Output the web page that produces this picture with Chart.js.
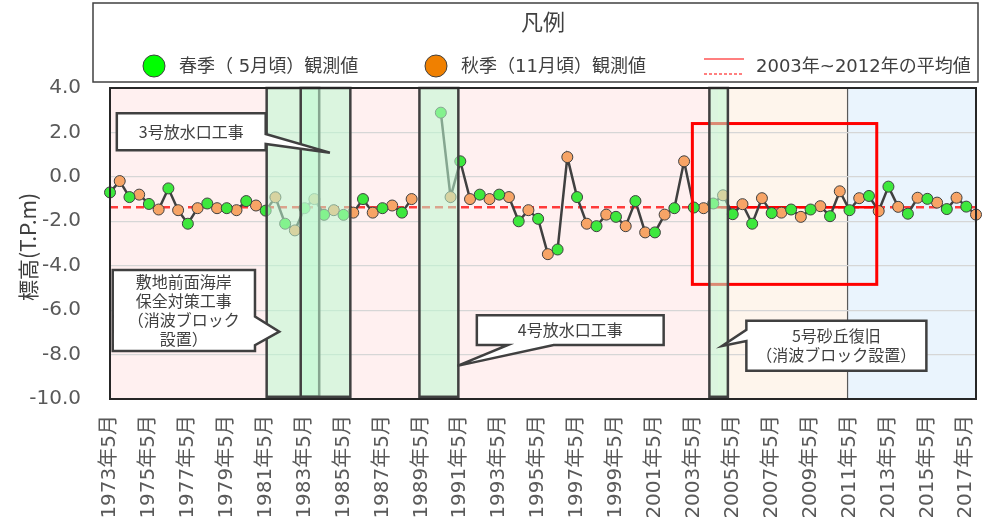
<!DOCTYPE html>
<html lang="ja">
<head>
<meta charset="utf-8">
<title>標高の推移</title>
<script src="https://cdn.jsdelivr.net/npm/chart.js@4.4.1/dist/chart.umd.min.js"></script>
<style>
html, body { margin: 0; padding: 0; background: #fff; }
#wrap { position: relative; width: 1002px; height: 526px; }
</style>
</head>
<body>
<div id="wrap"><canvas id="myChart" width="1002" height="526"></canvas></div>
<script>
// 観測年（春季=5月, 秋季=11月）
const startYear = 1973;
const endYear = 2017;

// 春季（5月頃）観測値 1973〜2017
const springValues = [-0.70, -0.91, -1.22, -0.52, -2.11, -1.20, -1.41, -1.09, -1.52, -2.11,
  -1.41, -1.71, -1.71, -1.00, -1.41, -1.61, null, 2.89, 0.70, -0.80,
  -0.80, -2.00, -1.89, -3.27, -0.91, -2.22, -1.80, -1.09, -2.50, -1.41,
  -1.38, -1.20, -1.68, -2.11, -1.63, -1.47, -1.47, -1.77, -1.50, -0.86,
  -0.44, -1.66, -0.99, -1.45, -1.34];

// 秋季（11月頃）観測値 1973〜2017
const autumnValues = [-0.19, -0.80, -1.47, -1.50, -1.41, -1.41, -1.50, -1.29, -0.92, -2.41,
  -1.00, -1.50, -1.61, -1.61, -1.29, -1.00, null, -0.91, -1.00, -1.00,
  -0.91, -1.50, -3.48, 0.89, -2.11, -1.70, -2.22, -2.50, -1.70, 0.70,
  -1.41, -0.83, -1.23, -0.96, -1.61, -1.80, -1.32, -0.65, -0.96, -1.54,
  -1.35, -0.94, -1.16, -0.94, -1.70];

// 2003年~2012年の平均値
const avgValue = -1.37;
const avgFrom = '2003年5月';
const avgTo = '2012年11月';

// y軸目盛
const yTicks = [4, 2, 0, -2, -4, -6, -8, -10];

// labels / series
let labels = [];
let allValues = [];
let springSeries = [];
let autumnSeries = [];
for (let k = 0; k <= endYear - startYear; k++) {
  labels.push((startYear + k) + '年5月');
  labels.push((startYear + k) + '年11月');
  allValues.push(springValues[k], autumnValues[k]);
  springSeries.push(springValues[k], null);
  autumnSeries.push(null, autumnValues[k]);
}
const i0 = labels.indexOf(avgFrom);
const i1 = labels.indexOf(avgTo);
const avgAll = labels.map(() => avgValue);
const avgPeriod = labels.map((l, i) => (i >= i0 && i <= i1) ? avgValue : null);

const FONT = "'DejaVu Sans', 'Noto Sans CJK JP', sans-serif";
const JFONT = "'Noto Sans CJK JP', 'DejaVu Sans', sans-serif";
const GREEN = '#3de83d';
const ORANGE = '#f7a466';

// 背景の色分け（カテゴリ位置）
const bands = [
  [0, 62.5, '#fff0f0'],
  [62.5, 75.8, '#fef5ec'],
  [75.8, 89, '#eaf4fd']
];
// 工事期間の枠
const works = [[16.1, 21.5], [19.6, 24.7], [31.8, 35.8], [61.6, 63.5]];
// 吹き出し
const notes = [
  { lines: ['3号放水口工事'], box: [0.7, 2.86, 16.0, 1.2], side: 'right', base: [1.93, 1.48], tip: [22.6, 1.09] },
  { lines: ['敷地前面海岸', '保全対策工事', '（消波ブロック', '設置）'], box: [0.28, -4.19, 14.9, -7.84], side: 'right', base: [-6.29, -7.58], tip: [17.4, -6.97] },
  { lines: ['4号放水口工事'], box: [37.7, -6.23, 56.9, -7.57], side: 'bottom', base: [40.9, 45.6], tip: [35.7, -8.51] },
  { lines: ['5号砂丘復旧', '（消波ブロック設置）'], box: [65.4, -6.48, 83.9, -8.73], side: 'left', base: [-6.89, -7.39], tip: [62.9, -7.61] }
];

function px(chart, i) { return chart.scales.x.getPixelForValue(i); }
function py(chart, v) { return chart.scales.y.getPixelForValue(v); }

const backdrop = {
  id: 'backdrop',
  beforeDraw(chart) {
    const ctx = chart.ctx;
    const a = chart.chartArea;
    ctx.save();
    bands.forEach(b => {
      const x1 = px(chart, b[0]), x2 = px(chart, b[1]);
      ctx.fillStyle = b[2];
      ctx.fillRect(x1, a.top, x2 - x1, a.bottom - a.top);
    });
    ctx.strokeStyle = '#5a5a5a';
    ctx.lineWidth = 1.2;
    ctx.beginPath();
    ctx.moveTo(px(chart, 75.8), a.top);
    ctx.lineTo(px(chart, 75.8), a.bottom);
    ctx.stroke();
    ctx.restore();
  }
};

function drawNote(ctx, chart, n) {
  const x1 = px(chart, n.box[0]), y1 = py(chart, n.box[1]);
  const x2 = px(chart, n.box[2]), y2 = py(chart, n.box[3]);
  const tx = px(chart, n.tip[0]), ty = py(chart, n.tip[1]);
  let pts;
  if (n.side === 'right') {
    const ya = py(chart, n.base[0]), yb = py(chart, n.base[1]);
    pts = [[x1, y1], [x2, y1], [x2, ya], [tx, ty], [x2, yb], [x2, y2], [x1, y2]];
  } else if (n.side === 'left') {
    const ya = py(chart, n.base[0]), yb = py(chart, n.base[1]);
    pts = [[x1, y1], [x2, y1], [x2, y2], [x1, y2], [x1, yb], [tx, ty], [x1, ya]];
  } else {
    const xa = px(chart, n.base[0]), xb = px(chart, n.base[1]);
    pts = [[x1, y1], [x2, y1], [x2, y2], [xb, y2], [tx, ty], [xa, y2], [x1, y2]];
  }
  ctx.beginPath();
  pts.forEach((p, k) => k ? ctx.lineTo(p[0], p[1]) : ctx.moveTo(p[0], p[1]));
  ctx.closePath();
  ctx.fillStyle = '#fff';
  ctx.fill();
  ctx.strokeStyle = '#404040';
  ctx.lineWidth = 2.5;
  ctx.lineJoin = 'miter';
  ctx.stroke();
  ctx.fillStyle = '#404040';
  ctx.font = '16px ' + JFONT;
  ctx.textAlign = 'center';
  ctx.textBaseline = 'middle';
  const lh = 19;
  const cx = (x1 + x2) / 2, cy = (y1 + y2) / 2;
  n.lines.forEach((t, k) => {
    ctx.fillText(t, cx, cy + (k - (n.lines.length - 1) / 2) * lh, (x2 - x1) - 14);
  });
}

const overlays = {
  id: 'overlays',
  afterDatasetsDraw(chart) {
    const ctx = chart.ctx;
    const a = chart.chartArea;
    ctx.save();
    // 赤枠
    ctx.strokeStyle = '#ff0000';
    ctx.lineWidth = 3;
    ctx.strokeRect(px(chart, 59.85), py(chart, 2.4), px(chart, 78.8) - px(chart, 59.85), py(chart, -4.84) - py(chart, 2.4));
    // 工事期間
    works.forEach(w => {
      const x1 = px(chart, w[0]), x2 = px(chart, w[1]);
      const y1 = py(chart, 4), y2 = py(chart, -9.9);
      ctx.fillStyle = 'rgba(190, 250, 210, 0.55)';
      ctx.fillRect(x1, y1, x2 - x1, y2 - y1);
      ctx.strokeStyle = '#404040';
      ctx.lineWidth = 2.5;
      ctx.strokeRect(x1, y1, x2 - x1, y2 - y1);
    });
    // 外枠
    ctx.strokeStyle = '#262626';
    ctx.lineWidth = 2;
    ctx.strokeRect(a.left, a.top, a.right - a.left, a.bottom - a.top);
    notes.forEach(n => drawNote(ctx, chart, n));
    ctx.restore();
  },
  afterDraw(chart) {
    const ctx = chart.ctx;
    ctx.save();
    // y軸タイトル
    ctx.translate(28, 247);
    ctx.rotate(-Math.PI / 2);
    ctx.fillStyle = '#404040';
    ctx.font = '21px ' + JFONT;
    ctx.textAlign = 'center';
    ctx.textBaseline = 'middle';
    ctx.fillText('標高(T.P.m)', 0, 0);
    ctx.restore();

    // 凡例
    ctx.save();
    ctx.fillStyle = '#fff';
    ctx.fillRect(93, 3, 885, 79);
    ctx.strokeStyle = '#404040';
    ctx.lineWidth = 1.5;
    ctx.strokeRect(93, 3, 885, 79);
    ctx.fillStyle = '#404040';
    ctx.textBaseline = 'middle';
    ctx.textAlign = 'center';
    ctx.font = '22px ' + JFONT;
    ctx.fillText('凡例', 543, 22);
    ctx.textAlign = 'left';
    ctx.font = '18px ' + FONT;
    [[154, '#00ff00', '春季（ 5月頃）観測値'], [436, '#f08000', '秋季（11月頃）観測値']].forEach(it => {
      ctx.beginPath();
      ctx.arc(it[0], 66, 11, 0, Math.PI * 2);
      ctx.fillStyle = it[1];
      ctx.fill();
      ctx.strokeStyle = '#404040';
      ctx.lineWidth = 1;
      ctx.stroke();
      ctx.fillStyle = '#404040';
      ctx.fillText(it[2], it[0] + 25, 67, 198);
    });
    ctx.strokeStyle = '#ff0000';
    ctx.lineWidth = 1.2;
    ctx.beginPath();
    ctx.moveTo(704, 59); ctx.lineTo(744, 59);
    ctx.stroke();
    ctx.setLineDash([3, 2]);
    ctx.beginPath();
    ctx.moveTo(704, 74); ctx.lineTo(744, 74);
    ctx.stroke();
    ctx.setLineDash([]);
    ctx.fillStyle = '#404040';
    ctx.fillText('2003年~2012年の平均値', 756, 67, 217);
    ctx.restore();
  }
};

const ctx = document.getElementById('myChart').getContext('2d');
const myChart = new Chart(ctx, {
  type: 'line',
  data: {
    labels: labels,
    datasets: [
      {
        label: '春季（ 5月頃）観測値',
        data: springSeries,
        showLine: false,
        pointRadius: 5.5,
        pointBackgroundColor: GREEN,
        pointBorderColor: '#404040',
        pointBorderWidth: 1,
        order: 0
      },
      {
        label: '秋季（11月頃）観測値',
        data: autumnSeries,
        showLine: false,
        pointRadius: 5.5,
        pointBackgroundColor: ORANGE,
        pointBorderColor: '#404040',
        pointBorderWidth: 1,
        order: 0
      },
      {
        label: '観測値',
        data: allValues,
        borderColor: '#404040',
        borderWidth: 2.5,
        pointRadius: 0,
        spanGaps: false,
        order: 1
      },
      {
        label: '2003年~2012年の平均値',
        data: avgPeriod,
        borderColor: '#ff0000',
        borderWidth: 2.5,
        pointRadius: 0,
        order: 2
      },
      {
        label: '平均値（全期間）',
        data: avgAll,
        borderColor: '#ff3a3a',
        borderWidth: 2.5,
        borderDash: [8, 5],
        pointRadius: 0,
        order: 3
      }
    ]
  },
  options: {
    responsive: false,
    animation: false,
    events: [],
    layout: { padding: { top: 88, right: 26, left: 0, bottom: 0 } },
    plugins: {
      legend: { display: false },
      tooltip: { enabled: false }
    },
    scales: {
      x: {
        type: 'category',
        offset: false,
        grid: { display: false, drawTicks: false },
        border: { display: false },
        ticks: {
          autoSkip: false,
          minRotation: 90,
          maxRotation: 90,
          padding: 16,
          color: '#595959',
          font: { size: 20, family: FONT },
          callback: function (value, index) {
            return index % 4 === 0 ? labels[index] : '';
          }
        },
        afterFit: function (scale) {
          scale.height = 127;
          scale.paddingLeft = 0;
          scale.paddingRight = 0;
        }
      },
      y: {
        min: -10,
        max: 4,
        afterBuildTicks: function (scale) {
          scale.ticks = yTicks.map(v => ({ value: v }));
        },
        grid: { color: '#d6d6d6', lineWidth: 1.2, drawTicks: false },
        border: { display: false },
        ticks: {
          padding: 29,
          color: '#595959',
          font: { size: 20, family: FONT },
          callback: function (v) { return Number(v).toFixed(1); }
        },
        afterFit: function (scale) { scale.width = 110; }
      }
    }
  },
  plugins: [backdrop, overlays]
});
</script>
</body>
</html>
